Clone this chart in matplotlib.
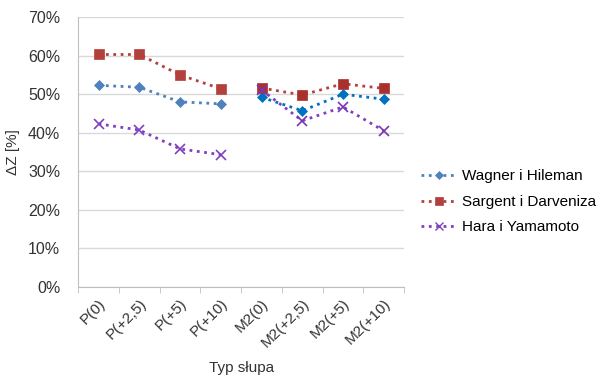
import matplotlib
matplotlib.use('Agg')
from matplotlib import pyplot as plt
from matplotlib.ticker import PercentFormatter
import numpy as np

plt.rcParams['font.family'] = ['Liberation Sans', 'DejaVu Sans']

categories = ['P(0)', 'P(+2,5)', 'P(+5)', 'P(+10)',
              'M2(0)', 'M2(+2,5)', 'M2(+5)', 'M2(+10)']
wagner = [52.3, 51.8, 48.0, 47.5, 49.2, 45.7, 50.0, 48.7]
sargent = [60.3, 60.3, 55.0, 51.4, 51.6, 49.8, 52.7, 51.5]
hara = [42.3, 40.7, 35.8, 34.3, 51.1, 43.1, 46.7, 40.5]

# name, values, marker, colours (P group, M2 group), marker size
series = [
	("Wagner i Hileman", wagner, 'D', ['#4F81BD', '#0070C0'], 5),
	("Sargent i Darveniza", sargent, 's', ['#B3403C', '#A8302D'], 7),
	("Hara i Yamamoto", hara, 'x', ['#8040C0', '#7A35B5'], 7),
]

fig = plt.figure(figsize=(6.16, 3.8), dpi=100)
ax = fig.add_axes([0.127, 0.245, 0.529, 0.71])

x = np.arange(len(categories))
groups = [slice(0, 4), slice(4, 8)]
for name, vals, mk, cols, ms in series:
	vals = np.array(vals)
	for g, col in zip(groups, cols):
		ax.plot(x[g], vals[g], linestyle=':', linewidth=2, color=cols[0] if mk != 'D' else col,
			marker=mk, markersize=ms, markeredgewidth=1.2 if mk == 'x' else 0.5,
			markeredgecolor=col, markerfacecolor=col)

ax.set_xlim(-0.5, len(categories) - 0.5)
ax.set_ylim(0, 70)
ax.set_yticks(np.arange(0, 71, 10))
ax.yaxis.set_major_formatter(PercentFormatter(decimals=0))
ax.set_xticks(x)
ax.set_xticklabels(categories, rotation=45, ha='right', rotation_mode='anchor')
ax.set_xticks(np.arange(-0.5, len(categories), 1), minor=True)
ax.tick_params(axis='x', which='major', length=0, pad=7, labelsize=11, colors='#333333')
ax.tick_params(axis='x', which='minor', length=4, color='#BFBFBF', direction='out')
ax.tick_params(axis='y', length=0, labelsize=11.5, colors='#333333', pad=13)
ax.grid(axis='y', color='#D9D9D9', linewidth=1)
ax.set_axisbelow(True)
for s in ['top', 'right']:
	ax.spines[s].set_visible(False)
ax.spines['left'].set_color('#BFBFBF')
ax.spines['bottom'].set_color('#BFBFBF')

ax.set_ylabel('ΔZ [%]', fontsize=11, color='#333333', labelpad=6)
ax.set_xlabel('Typ słupa', fontsize=11, color='#333333', labelpad=8)

leg_handles = []
for name, vals, mk, cols, ms in series:
	lh, = ax.plot([], [], linestyle=':', linewidth=2, color=cols[0], marker=mk,
		markersize=ms * 0.8, markeredgewidth=1 if mk == 'x' else 0.5,
		markeredgecolor=cols[0], markerfacecolor=cols[0])
	leg_handles.append(lh)

ax.legend(leg_handles, [s[0] for s in series],
	loc='center left', bbox_to_anchor=(1.01, 0.315), frameon=False,
	fontsize=11, handlelength=2.3, handletextpad=0.4, labelspacing=0.75)

fig.savefig('out.png', dpi=100)
